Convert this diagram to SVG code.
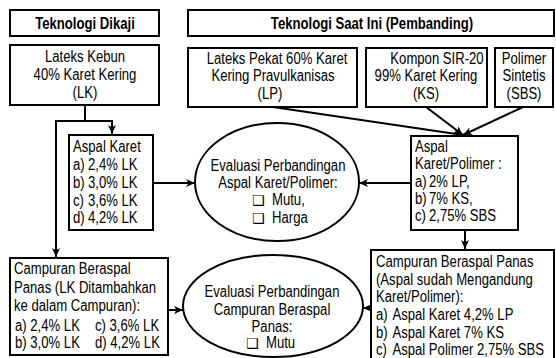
<svg xmlns="http://www.w3.org/2000/svg" width="556" height="358" viewBox="0 0 556 358">
<defs>
<style>
.b{fill:#fff;stroke:#000;stroke-width:2}
.t{font-family:"Liberation Sans",Arial,sans-serif;font-size:16px;fill:#000}
.h{font-weight:bold}
.m{text-anchor:middle}
.ck{font-family:"DejaVu Sans",sans-serif;font-size:14px;fill:#000}
.c{fill:none;stroke:#000;stroke-width:2}
</style>
<marker id="ar" markerUnits="userSpaceOnUse" markerWidth="10" markerHeight="10" refX="9" refY="4" orient="auto">
<path d="M0,0 L9,4 L0,8 L2.5,4 Z" fill="#000"/>
</marker>
</defs>
<rect width="556" height="358" fill="#fff"/>
<g id="connectors">
<polyline class="c" points="85,105 85,121"/>
<line class="c" x1="56" y1="121" x2="113" y2="121"/>
<line class="c" x1="112" y1="121" x2="112" y2="134" marker-end="url(#ar)"/>
<line class="c" x1="56" y1="120" x2="56" y2="257" marker-end="url(#ar)"/>
<line class="c" x1="153" y1="183" x2="195" y2="183" marker-end="url(#ar)"/>
<line class="c" x1="411" y1="183" x2="359" y2="183" marker-end="url(#ar)"/>
<line class="c" x1="465" y1="230" x2="465" y2="249" marker-end="url(#ar)"/>
<line class="c" x1="168" y1="310" x2="183" y2="310" marker-end="url(#ar)"/>
<line class="c" x1="371" y1="308" x2="363" y2="308" marker-end="url(#ar)"/>
<line class="c" x1="273" y1="107" x2="463" y2="135" marker-end="url(#ar)"/>
<line class="c" x1="426" y1="107" x2="463" y2="135" marker-end="url(#ar)"/>
<line class="c" x1="523" y1="107" x2="463" y2="135" marker-end="url(#ar)"/>
</g>
<g id="hdr-dikaji">
<rect class="b" x="10" y="10" width="149" height="26"/>
<text class="t h m" transform="translate(85,29) scale(0.82,1)">Teknologi Dikaji</text>
</g>
<g id="hdr-saatini">
<rect class="b" x="188" y="10" width="366" height="26"/>
<text class="t h m" transform="translate(372,29) scale(0.82,1)">Teknologi Saat Ini (Pembanding)</text>
</g>
<g id="lk">
<rect class="b" x="10" y="45" width="149" height="60"/>
<text class="t m" transform="translate(85,62) scale(0.82,1)">Lateks Kebun</text>
<text class="t m" transform="translate(85,80) scale(0.82,1)">40% Karet Kering</text>
<text class="t m" transform="translate(85,98) scale(0.82,1)">(LK)</text>
</g>
<g id="lp">
<rect class="b" x="188" y="48" width="169" height="59"/>
<text class="t m" transform="translate(277,64) scale(0.82,1)">Lateks Pekat 60% Karet</text>
<text class="t m" transform="translate(273,81) scale(0.82,1)">Kering Pravulkanisas</text>
<text class="t m" transform="translate(270,99) scale(0.82,1)">(LP)</text>
</g>
<g id="ks">
<rect class="b" x="366" y="48" width="121" height="59"/>
<text class="t m" transform="translate(437,64) scale(0.82,1)">Kompon SIR-20</text>
<text class="t m" transform="translate(426,81) scale(0.82,1)">99% Karet Kering</text>
<text class="t m" transform="translate(426,99) scale(0.82,1)">(KS)</text>
</g>
<g id="sbs">
<rect class="b" x="495" y="48" width="58" height="59"/>
<text class="t m" transform="translate(524,64) scale(0.82,1)">Polimer</text>
<text class="t m" transform="translate(524,81) scale(0.82,1)">Sintetis</text>
<text class="t m" transform="translate(524,99) scale(0.82,1)">(SBS)</text>
</g>
<g id="aspal-karet">
<rect class="b" x="69" y="135" width="84" height="95"/>
<text class="t" transform="translate(73,152) scale(0.82,1)">Aspal Karet</text>
<text class="t" transform="translate(73,170) scale(0.82,1)"><tspan x="0">a)</tspan><tspan x="18.3">2,4% LK</tspan></text>
<text class="t" transform="translate(73,188) scale(0.82,1)"><tspan x="0">b)</tspan><tspan x="18.3">3,0% LK</tspan></text>
<text class="t" transform="translate(73,206) scale(0.82,1)"><tspan x="0">c)</tspan><tspan x="18.3">3,6% LK</tspan></text>
<text class="t" transform="translate(73,223) scale(0.82,1)"><tspan x="0">d)</tspan><tspan x="18.3">4,2% LK</tspan></text>
</g>
<g id="aspal-polimer">
<rect class="b" x="411" y="136" width="107" height="94"/>
<text class="t" transform="translate(415,152) scale(0.82,1)">Aspal</text>
<text class="t" transform="translate(415,169) scale(0.82,1)">Karet/Polimer :</text>
<text class="t" transform="translate(415,187) scale(0.82,1)"><tspan x="0">a)</tspan><tspan x="17.1">2% LP,</tspan></text>
<text class="t" transform="translate(415,204) scale(0.82,1)"><tspan x="0">b)</tspan><tspan x="17.1">7% KS,</tspan></text>
<text class="t" transform="translate(415,221) scale(0.82,1)"><tspan x="0">c)</tspan><tspan x="17.1">2,75% SBS</tspan></text>
</g>
<g id="eval-aspal">
<ellipse class="b" cx="277" cy="182" rx="82" ry="59"/>
<text class="t m" transform="translate(278,171) scale(0.82,1)">Evaluasi Perbandingan</text>
<text class="t m" transform="translate(278,188) scale(0.82,1)">Aspal Karet/Polimer:</text>
<text class="ck" x="252" y="205">❑</text>
<text class="t" transform="translate(272,205) scale(0.82,1)">Mutu,</text>
<text class="ck" x="252" y="223">❑</text>
<text class="t" transform="translate(272,223) scale(0.82,1)">Harga</text>
</g>
<g id="campuran-lk">
<rect class="b" x="10" y="258" width="158" height="97"/>
<text class="t" transform="translate(14,274) scale(0.82,1)">Campuran Beraspal</text>
<text class="t" transform="translate(14,293) scale(0.82,1)">Panas (LK Ditambahkan</text>
<text class="t" transform="translate(14,311) scale(0.82,1)">ke dalam Campuran):</text>
<text class="t" transform="translate(15,331) scale(0.82,1)">a) 2,4% LK</text>
<text class="t" transform="translate(95,331) scale(0.82,1)">c) 3,6% LK</text>
<text class="t" transform="translate(15,348) scale(0.82,1)">b) 3,0% LK</text>
<text class="t" transform="translate(95,348) scale(0.82,1)">d) 4,2% LK</text>
</g>
<g id="eval-campuran">
<ellipse class="b" cx="273" cy="306" rx="90" ry="51"/>
<text class="t m" transform="translate(272,297) scale(0.82,1)">Evaluasi Perbandingan</text>
<text class="t m" transform="translate(272,315) scale(0.82,1)">Campuran Beraspal</text>
<text class="t m" transform="translate(272,332) scale(0.82,1)">Panas:</text>
<text class="ck" x="246" y="348">❑</text>
<text class="t" transform="translate(266,348) scale(0.82,1)">Mutu</text>
</g>
<g id="campuran-polimer">
<rect class="b" x="371" y="250" width="183" height="112"/>
<text class="t" transform="translate(376,267) scale(0.82,1)">Campuran Beraspal Panas</text>
<text class="t" transform="translate(376,285) scale(0.82,1)">(Aspal sudah Mengandung</text>
<text class="t" transform="translate(376,302) scale(0.82,1)">Karet/Polimer):</text>
<text class="t" transform="translate(376,320) scale(0.82,1)"><tspan x="0">a)</tspan><tspan x="20">Aspal Karet 4,2% LP</tspan></text>
<text class="t" transform="translate(376,338) scale(0.82,1)"><tspan x="0">b)</tspan><tspan x="20">Aspal Karet 7% KS</tspan></text>
<text class="t" transform="translate(376,355) scale(0.82,1)"><tspan x="0">c)</tspan><tspan x="20">Aspal Polimer 2,75% SBS</tspan></text>
</g>
</svg>
